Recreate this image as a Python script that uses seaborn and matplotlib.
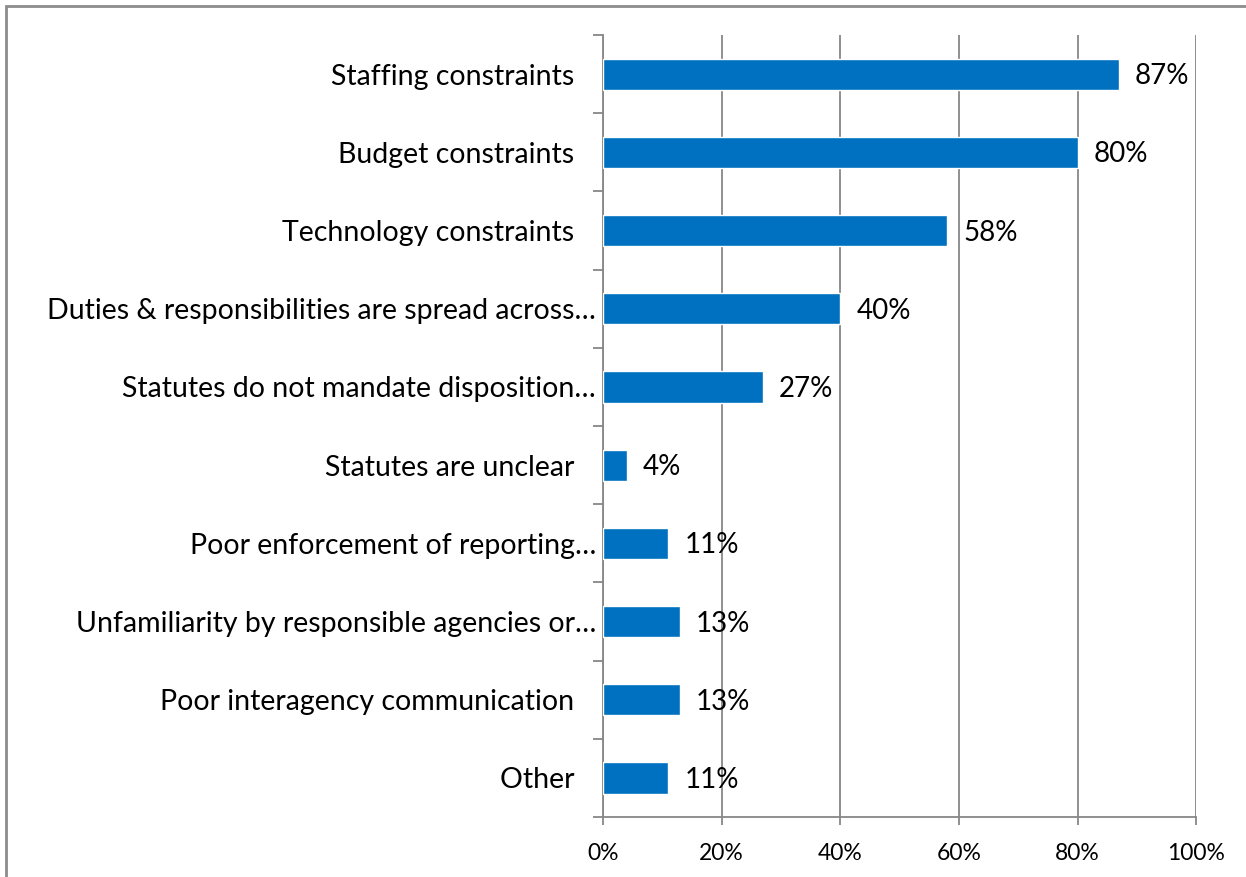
import matplotlib
matplotlib.use("Agg")
import matplotlib.pyplot as plt
from matplotlib.patches import Rectangle
from matplotlib.ticker import FixedLocator, PercentFormatter
import seaborn as sns
import pandas as pd

categories = [
    "Staffing constraints",
    "Budget constraints",
    "Technology constraints",
    "Duties & responsibilities are spread across\u2026",
    "Statutes do not mandate disposition\u2026",
    "Statutes are unclear",
    "Poor enforcement of reporting\u2026",
    "Unfamiliarity by responsible agencies or\u2026",
    "Poor interagency communication",
    "Other",
]
values = [87, 80, 58, 40, 27, 4, 11, 13, 13, 11]
x_ticks = [0, 20, 40, 60, 80, 100]

sns.set_theme(style="white")
plt.rcParams["font.family"] = ["Lato", "DejaVu Sans"]

df = pd.DataFrame({"category": categories, "value": values})

fig = plt.figure(figsize=(12.46, 8.77), dpi=100)
ax = fig.add_axes([0.484, 0.0684, 0.476, 0.8916])

bar_color = "#0070C0"
grid_color = "#878787"

sns.barplot(data=df, x="value", y="category", orient="h", color=bar_color,
            width=0.4, saturation=1, ax=ax, zorder=3)

ax.set_xlim(0, 100)
ax.set_ylim(len(categories) - 0.5, -0.5)
ax.set_xlabel("")
ax.set_ylabel("")

# gridlines and spines
ax.xaxis.set_major_locator(FixedLocator(x_ticks))
ax.xaxis.set_major_formatter(PercentFormatter(decimals=0))
ax.grid(axis="x", color=grid_color, linewidth=1.3, zorder=0)
ax.set_axisbelow(True)
for side in ["top", "right"]:
    ax.spines[side].set_visible(False)
for side in ["left", "bottom"]:
    ax.spines[side].set_color(grid_color)
    ax.spines[side].set_linewidth(1.3)

ax.tick_params(axis="x", which="major", direction="out", length=6, width=1.3,
               color=grid_color, labelsize=16.5, labelcolor="black", pad=13, bottom=True)
ax.tick_params(axis="y", which="major", length=0, labelsize=20.5,
               labelcolor="black", pad=5)
ax.yaxis.set_minor_locator(FixedLocator([i - 0.5 for i in range(len(categories) + 1)]))
ax.tick_params(axis="y", which="minor", direction="out", length=7, width=1.3,
               color=grid_color, left=True)

# labels that are not cut short sit a little further from the axis
ax.set_yticks(range(len(categories)))
ax.set_yticklabels([c if c.endswith("\u2026") else c + "   " for c in categories])

# value labels
for i, v in enumerate(values):
    ax.annotate(f"{v}%", xy=(v, i), xytext=(11.5, -1.5), textcoords="offset points",
                ha="left", va="center", fontsize=20, color="black", zorder=4)

# chart area border
fig.patches.append(Rectangle((6 / 1246, -0.1), 1.2, 1 - 6 / 877 + 0.1,
                             transform=fig.transFigure, fill=False,
                             edgecolor="#8c8c8c", linewidth=2))

fig.savefig("out.png", dpi=100, facecolor="white")
